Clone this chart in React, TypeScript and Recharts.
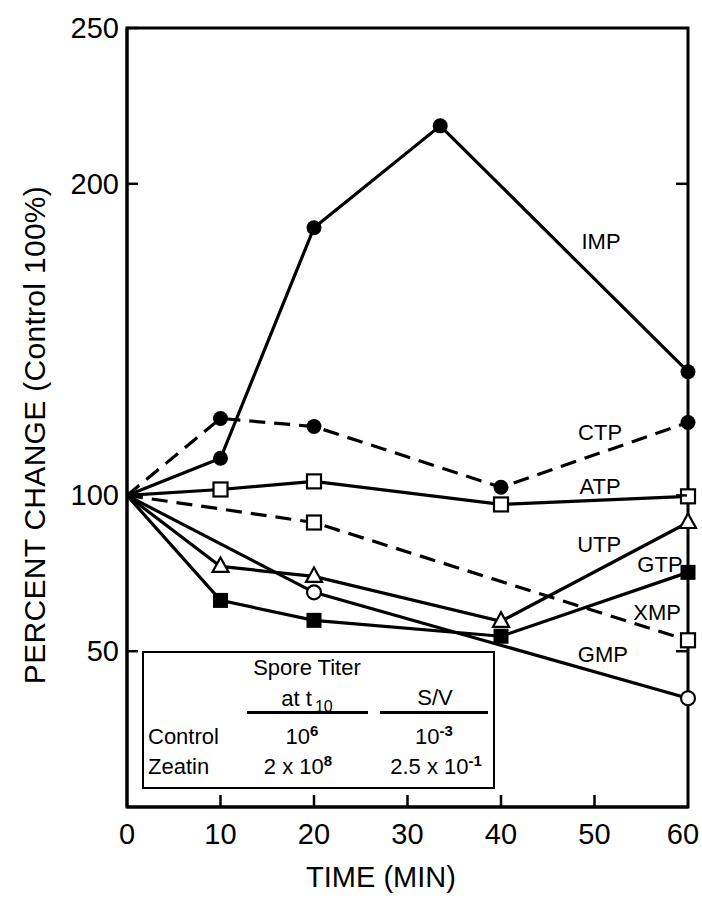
import React from 'react';
import { LineChart, Line, XAxis, YAxis, ReferenceDot, ReferenceArea } from 'recharts';

const timeTicks = [0, 10, 20, 30, 40, 50, 60];
const percentTicks = [50, 100, 200, 250];
const rightTicks = [50, 100, 200];

const impTime = [0, 10, 20, 33.5, 60];
const impValues = [100, 111.9, 185.9, 218.6, 139.7];
const ctpTime = [0, 10, 20, 40, 60];
const ctpValues = [100, 124.7, 122.1, 102.6, 123.4];
const atpTime = [0, 10, 20, 40, 60];
const atpValues = [100, 101.9, 104.5, 97.1, 99.7];
const utpTime = [0, 10, 20, 40, 60];
const utpValues = [100, 77.2, 74.0, 59.6, 91.3];
const gtpTime = [0, 10, 20, 40, 60];
const gtpValues = [100, 66.3, 59.9, 54.8, 75.3];
const xmpTime = [0, 20, 60];
const xmpValues = [100, 91.3, 53.5];
const gmpTime = [0, 20, 60];
const gmpValues = [100, 68.9, 34.9];

// label anchors (time, percent)
const seriesNames = ['IMP', 'CTP', 'ATP', 'UTP', 'GTP', 'XMP', 'GMP'];
const labelTime = [50.7, 50.6, 50.6, 50.5, 57.0, 56.7, 50.9];
const labelPercent = [181.4, 120.2, 102.9, 84.3, 77.9, 62.5, 49.0];

const FONT = '"Liberation Sans", Arial, Helvetica, sans-serif';

const toPoints = (t: number[], v: number[]) => t.map((x, i) => ({ x, y: v[i] }));

type Kind = 'filledCircle' | 'openCircle' | 'openSquare' | 'filledSquare' | 'openTriangle';

const marker = (kind: Kind) => (p: any) => {
  const { cx, cy, index, payload } = p;
  const k = `m-${kind}-${index}`;
  if (payload.x === 0 || cx == null) return <g key={k} />;
  switch (kind) {
    case 'filledCircle':
      return <circle key={k} cx={cx} cy={cy} r={7.5} fill="#000" />;
    case 'openCircle':
      return <circle key={k} cx={cx} cy={cy} r={7} fill="#fff" stroke="#000" strokeWidth={2.2} />;
    case 'openSquare':
      return <rect key={k} x={cx - 7} y={cy - 7} width={14} height={14} fill="#fff" stroke="#000" strokeWidth={2.2} />;
    case 'filledSquare':
      return <rect key={k} x={cx - 7.5} y={cy - 7.5} width={15} height={15} fill="#000" />;
    default:
      return (
        <polygon key={k} points={`${cx},${cy - 9} ${cx - 8},${cy + 5.5} ${cx + 8},${cy + 5.5}`}
          fill="#fff" stroke="#000" strokeWidth={2.2} />
      );
  }
};

const series = [
  { name: 'IMP', data: toPoints(impTime, impValues), kind: 'filledCircle' as Kind, dash: undefined, axis: 0 as any },
  { name: 'CTP', data: toPoints(ctpTime, ctpValues), kind: 'filledCircle' as Kind, dash: '16 9', axis: 0 as any },
  { name: 'XMP', data: toPoints(xmpTime, xmpValues), kind: 'openSquare' as Kind, dash: '16 9', axis: 0 as any },
  { name: 'GMP', data: toPoints(gmpTime, gmpValues), kind: 'openCircle' as Kind, dash: undefined, axis: 0 as any },
  { name: 'GTP', data: toPoints(gtpTime, gtpValues), kind: 'filledSquare' as Kind, dash: undefined, axis: 0 as any },
  { name: 'UTP', data: toPoints(utpTime, utpValues), kind: 'openTriangle' as Kind, dash: undefined, axis: 0 as any },
  { name: 'ATP', data: toPoints(atpTime, atpValues), kind: 'openSquare' as Kind, dash: undefined, axis: 'r' as any },
];

const LeftTick = ({ x, y, payload }: any) => (
  <g>
    <line x1={x} x2={x + 11} y1={y} y2={y} stroke="#000" strokeWidth={2.5} />
    <text x={x - 8} y={y} textAnchor="end" dominantBaseline="central" fontSize={29} fontFamily={FONT} fill="#000">
      {payload.value}
    </text>
  </g>
);

const RightTick = ({ x, y }: any) => (
  <line x1={x} x2={x - 11} y1={y} y2={y} stroke="#000" strokeWidth={2.5} />
);

const BottomTick = ({ x, y, payload }: any) => (
  <g>
    {payload.value > 0 && payload.value < 60 && (
      <line x1={x} x2={x} y1={y} y2={y - 12} stroke="#000" strokeWidth={2.5} />
    )}
    <text x={payload.value === 60 ? x - 5 : x} y={y + 27} textAnchor="middle" dominantBaseline="central"
      fontSize={29} fontFamily={FONT} fill="#000">
      {payload.value}
    </text>
  </g>
);

const axisStroke = { stroke: '#000', strokeWidth: 3 };

const txt = (text: React.ReactNode, cx: number, cy: number, align: 'center' | 'left' = 'center') => (
  <div
    style={{
      position: 'absolute',
      left: align === 'center' ? cx - 100 : cx,
      top: cy - 13,
      width: align === 'center' ? 200 : undefined,
      textAlign: align,
      lineHeight: '26px',
      fontSize: 22,
      whiteSpace: 'nowrap',
    }}
  >
    {text}
  </div>
);

const sup = (s: string) => (
  <span style={{ fontSize: 15, position: 'relative', top: -8, fontWeight: 'bold' }}>{s}</span>
);

export default function App() {
  const boxLeft = 142;
  const boxTop = 651;
  return (
    <div style={{ position: 'relative', width: 702, height: 898, fontFamily: FONT, color: '#000', background: '#fff' }}>
      <style>{'body{margin:0}'}</style>
      <LineChart width={702} height={898} margin={{ top: 28, right: 13, bottom: 50, left: 67 }}>
        <XAxis
          type="number"
          dataKey="x"
          domain={[0, 60]}
          ticks={timeTicks}
          interval={0}
          height={41}
          tickSize={0}
          tickMargin={0}
          tickLine={false}
          axisLine={axisStroke}
          tick={(p: any) => <BottomTick {...p} />}
          label={(p: any) => (
            <text x={p.viewBox.x + 254} y={p.viewBox.y + 70} textAnchor="middle" dominantBaseline="central"
              fontSize={29} fontFamily={FONT} fill="#000">
              TIME (MIN)
            </text>
          )}
        />
        <YAxis
          type="number"
          domain={[0, 250]}
          ticks={percentTicks}
          interval={0}
          width={60}
          tickSize={0}
          tickMargin={0}
          tickLine={false}
          axisLine={axisStroke}
          tick={(p: any) => <LeftTick {...p} />}
          label={(p: any) => {
            const cx = 34;
            const cy = 435;
            return (
              <text x={cx} y={cy} transform={`rotate(-90 ${cx} ${cy})`} textAnchor="middle" dominantBaseline="central"
                fontSize={30} fontFamily={FONT} fill="#000" letterSpacing={0.3}>
                PERCENT CHANGE (Control 100%)
              </text>
            );
          }}
        />
        <YAxis yAxisId="r" orientation="right" type="number" domain={[0, 250]} ticks={rightTicks} interval={0}
          width={1} tickSize={0} tickMargin={0} tickLine={false} axisLine={false}
          tick={(p: any) => <RightTick {...p} x={p.x - 1} />} />
        <ReferenceArea x1={0} x2={60} y1={0} y2={250} fill="none" stroke="#000" strokeWidth={3}
          fillOpacity={0} ifOverflow="visible" />
        {series.map((s) => (
          <Line
            key={s.name}
            data={s.data}
            dataKey="y"
            yAxisId={s.axis}
            type="linear"
            stroke="#000"
            strokeWidth={3.2}
            strokeDasharray={s.dash}
            dot={marker(s.kind)}
            activeDot={false}
            isAnimationActive={false}
          />
        ))}
        {seriesNames.map((n, i) => (
          <ReferenceDot
            key={n}
            x={labelTime[i]}
            y={labelPercent[i]}
            r={1}
            fill="none"
            stroke="none"
            ifOverflow="visible"
            label={(p: any) => (
              <text x={p.viewBox.x + p.viewBox.width / 2} y={p.viewBox.y + p.viewBox.height / 2}
                textAnchor="middle" dominantBaseline="central" fontSize={22} fontFamily={FONT} fill="#000">
                {n}
              </text>
            )}
          />
        ))}
      </LineChart>
      <div
        style={{
          position: 'absolute',
          left: boxLeft,
          top: boxTop,
          width: 353,
          height: 138,
          border: '2.5px solid #000',
          boxSizing: 'border-box',
          background: '#fff',
        }}
      />
      {txt('Spore Titer', 307, 668)}
      {txt(
        <span>
          at t<span style={{ fontSize: 16, position: 'relative', top: 6, marginLeft: 3 }}>10</span>
        </span>,
        307,
        699
      )}
      <div style={{ position: 'absolute', left: 247, top: 711, width: 121, height: 2.5, background: '#000' }} />
      {txt('S/V', 435, 698)}
      <div style={{ position: 'absolute', left: 380, top: 711, width: 108, height: 2.5, background: '#000' }} />
      {txt('Control', 148, 737, 'left')}
      {txt(<span>10{sup('6')}</span>, 302, 737)}
      {txt(<span>10{sup('-3')}</span>, 434, 737)}
      {txt('Zeatin', 148, 767, 'left')}
      {txt(<span>2 x 10{sup('8')}</span>, 298, 767)}
      {txt(<span>2.5 x 10{sup('-1')}</span>, 436, 767)}
    </div>
  );
}
